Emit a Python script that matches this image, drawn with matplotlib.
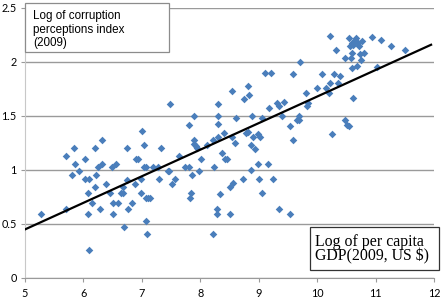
import numpy as np
import matplotlib
matplotlib.use("Agg")
import matplotlib.pyplot as plt
from matplotlib.patches import Rectangle

# log of per capita GDP (x) and log of corruption perceptions index (y)
gdp_log = [
    5.27, 5.71, 5.71, 5.80, 5.84, 5.86, 5.92, 6.03, 6.03, 6.07, 6.07, 6.10, 6.10,
    6.14, 6.19, 6.20, 6.22, 6.25, 6.28, 6.32, 6.32, 6.39, 6.46, 6.49, 6.50, 6.51,
    6.56, 6.59, 6.64, 6.67, 6.68, 6.70, 6.75, 6.75, 6.77, 6.83, 6.88, 6.90, 6.93,
    6.99, 6.99, 7.00, 7.04, 7.04, 7.07, 7.07, 7.08, 7.07, 7.11, 7.14, 7.19, 7.27,
    7.29, 7.33, 7.44, 7.46, 7.49, 7.51, 7.57, 7.63, 7.73, 7.80, 7.81, 7.83, 7.84,
    7.86, 7.90, 7.90, 7.90, 7.92, 7.94, 7.97, 8.02, 8.11, 8.21, 8.22, 8.23, 8.29,
    8.29, 8.30, 8.30, 8.31, 8.31, 8.33, 8.37, 8.40, 8.42, 8.45, 8.51, 8.51, 8.54,
    8.55, 8.56, 8.60, 8.61, 8.73, 8.75, 8.78, 8.81, 8.82, 8.84, 8.87, 8.87, 8.89,
    8.91, 8.94, 8.98, 8.98, 9.01, 9.02, 9.05, 9.05, 9.11, 9.16, 9.18, 9.21, 9.24,
    9.32, 9.35, 9.35, 9.40, 9.43, 9.54, 9.54, 9.58, 9.58, 9.66, 9.69, 9.69, 9.70,
    9.81, 9.83, 9.85, 9.99, 10.09, 10.16, 10.21, 10.22, 10.22, 10.26, 10.29, 10.33,
    10.35, 10.39, 10.47, 10.47, 10.51, 10.54, 10.55, 10.58, 10.59, 10.59, 10.61,
    10.60, 10.64, 10.67, 10.68, 10.70, 10.74, 10.75, 10.76, 10.81, 10.94, 11.02,
    11.09, 11.26, 11.50, 10.56, 10.62, 10.72,
]
cpi_log = [
    0.59, 1.13, 0.64, 0.95, 1.20, 1.06, 0.99, 1.10, 0.92, 0.79, 0.59, 0.26, 0.92,
    0.69, 0.84, 1.20, 0.95, 1.03, 0.64, 1.06, 1.28, 0.87, 0.79, 1.03, 0.69, 0.59,
    1.06, 0.69, 0.79, 0.79, 0.84, 0.47, 1.20, 0.91, 0.64, 0.69, 0.87, 1.10, 1.10,
    0.79, 0.92, 1.36, 1.23, 1.03, 1.03, 0.53, 0.41, 0.74, 0.74, 0.74, 1.03, 1.03,
    0.92, 1.20, 0.99, 0.99, 1.61, 0.87, 0.92, 1.13, 1.03, 1.42, 1.03, 0.74, 0.79,
    0.95, 1.50, 1.28, 1.24, 1.22, 1.20, 0.99, 1.10, 1.23, 0.41, 1.28, 1.03, 0.64,
    0.59, 1.61, 1.50, 1.43, 1.31, 0.78, 1.16, 1.34, 1.10, 1.10, 0.84, 0.59, 1.31,
    1.73, 0.88, 1.25, 1.48, 0.92, 1.66, 1.34, 1.35, 1.78, 1.69, 1.00, 1.23, 1.50,
    1.31, 1.19, 1.33, 1.06, 0.92, 1.31, 1.48, 0.79, 1.90, 1.06, 1.57, 1.90, 0.92,
    1.62, 1.59, 0.64, 1.50, 1.63, 1.41, 0.59, 1.89, 1.28, 1.46, 1.46, 1.50, 2.00,
    1.71, 1.59, 1.62, 1.76, 1.89, 1.76, 1.71, 2.24, 1.81, 1.33, 1.89, 2.11,
    1.81, 1.87, 2.04, 1.46, 1.42, 1.41, 2.22, 2.04, 2.08, 1.94, 1.67,
    2.18, 2.20, 2.22, 1.96, 2.18, 2.07, 2.02, 2.19, 2.08, 2.23, 1.95,
    2.20, 2.15, 2.11, 2.15, 2.16, 2.15,
]

# linear trend line
trend_slope = 0.246
trend_intercept = -0.78
trend_range = [5.0, 11.95]

x_ticks = [5, 6, 7, 8, 9, 10, 11, 12]
y_ticks = [0, 0.5, 1, 1.5, 2, 2.5]

W, H = 441, 304
fig = plt.figure(figsize=(W / 100, H / 100), dpi=100)
ax = fig.add_axes([25 / W, 26 / H, 409 / W, 270 / H])

ax.scatter(gdp_log, cpi_log, marker="D", s=15, color="#4a7ebb", linewidths=0, zorder=3)

tx = np.array(trend_range)
ax.plot(tx, trend_slope * tx + trend_intercept, color="black", lw=1.6, zorder=4)

ax.set_xlim(5, 12)
ax.set_ylim(0, 2.5)
ax.set_xticks(x_ticks)
ax.set_yticks(y_ticks)
ax.set_xticklabels([str(v) for v in x_ticks])
ax.set_yticklabels(["0", "0.5", "1", "1.5", "2", "2.5"])
ax.yaxis.grid(True, color="#9a9a9a", lw=1.0)
ax.set_axisbelow(True)

for s in ["top", "right"]:
    ax.spines[s].set_visible(False)
ax.spines["left"].set_color("#c8c8c8")
ax.spines["bottom"].set_color("#9a9a9a")
ax.tick_params(axis="both", colors="#9a9a9a", length=3, labelcolor="black",
               labelsize=7.8, pad=3)
ax.tick_params(axis="x", pad=4.5)
for lab in ax.get_xticklabels() + ax.get_yticklabels():
    lab.set_family("Lato")

# y-axis label box (top left)
fig.add_artist(Rectangle((25 / W, 1 - 52 / H), 144 / W, 49 / H,
                         transform=fig.transFigure, facecolor="white",
                         edgecolor="#8c8c8c", lw=0.9, zorder=5))
for txt, base in [("Log of corruption", 18.5), ("perceptions index", 32.5), ("(2009)", 46)]:
    fig.text(33 / W, 1 - base / H, txt, fontsize=8.4, family="Liberation Sans",
             va="baseline", ha="left", zorder=6)

# x-axis label box (bottom right)
fig.add_artist(Rectangle((310 / W, 1 - 270 / H), 129 / W, 43 / H,
                         transform=fig.transFigure, facecolor="white",
                         edgecolor="#333333", lw=0.9, zorder=5))
for txt, base in [("Log of per capita", 245.5), ("GDP(2009, US $)", 260.5)]:
    fig.text(315 / W, 1 - base / H, txt, fontsize=11.4, family="Liberation Serif",
             va="baseline", ha="left", zorder=6)

fig.savefig("out.png", dpi=100)
